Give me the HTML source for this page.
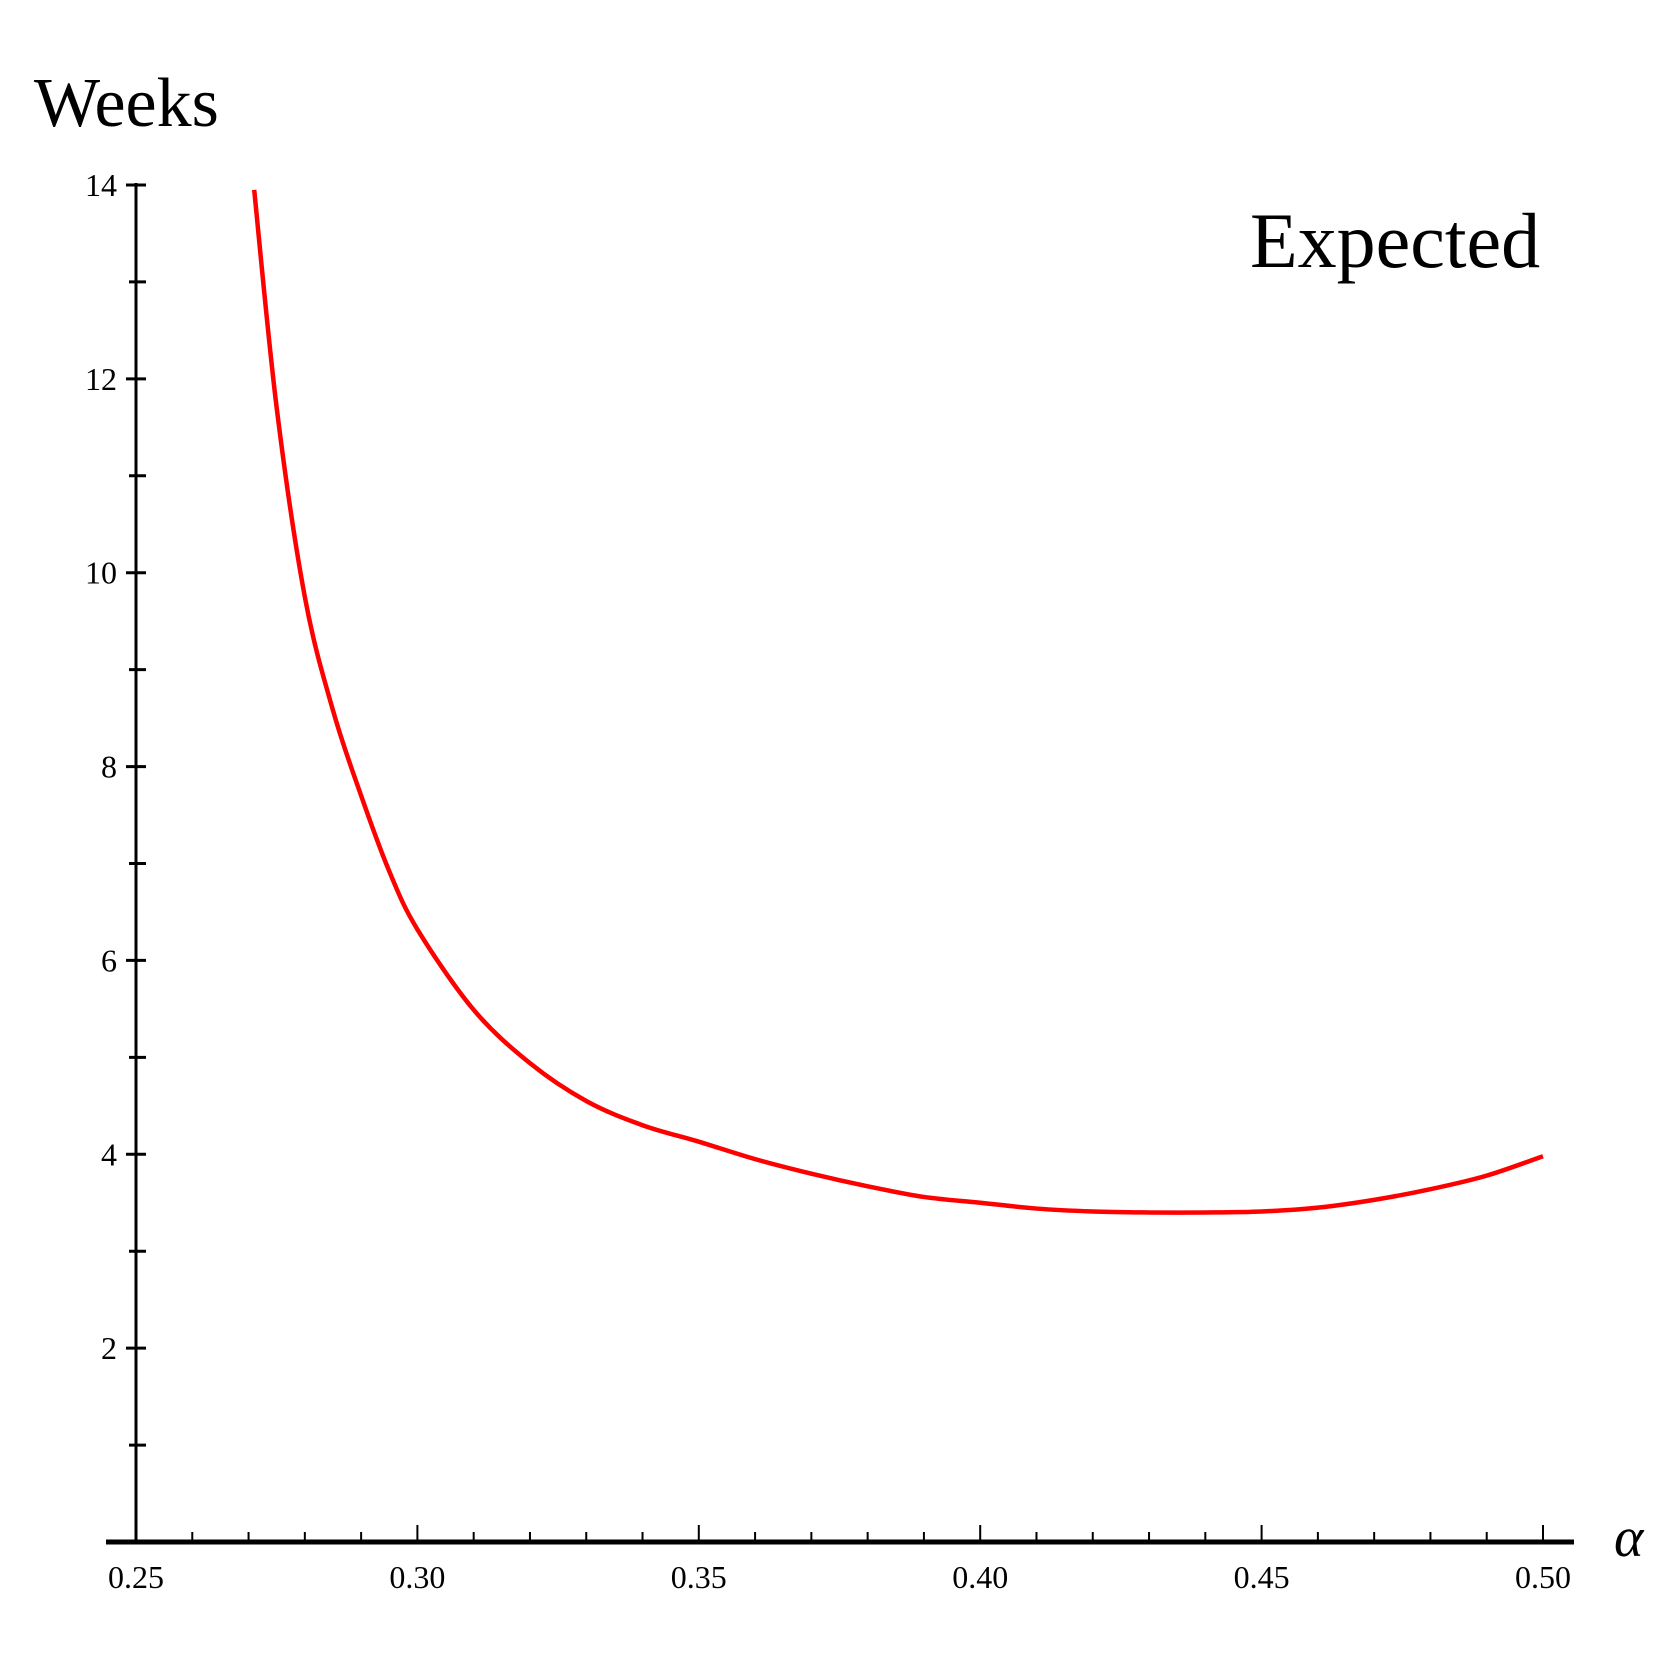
<!DOCTYPE html>
<html><head><meta charset="utf-8"><style>
html,body{margin:0;padding:0;background:#fff;}
svg text{font-family:"Liberation Serif",serif;fill:#000;}
</style></head><body>
<svg id="chart" width="1667" height="1667" viewBox="0 0 1667 1667" xmlns="http://www.w3.org/2000/svg">
<text x="34" y="126" font-size="70">Weeks</text>
<text x="1250" y="267" font-size="78">Expected</text>
<text x="1614" y="1556" font-size="56" font-style="italic">α</text>
<g id="axes"></g>
<path id="curve" fill="none" stroke="#ff0000" stroke-width="4.5" stroke-linejoin="round"/>
</svg>
<script>
const alphaValues=[0.271,0.275,0.28,0.285,0.29,0.295,0.30,0.31,0.32,0.33,0.34,0.35,0.36,0.37,0.38,0.39,0.40,0.41,0.42,0.43,0.44,0.45,0.46,0.47,0.48,0.49,0.50];
const weeksValues=[13.95,11.7,9.75,8.58,7.7,6.92,6.32,5.49,4.94,4.55,4.3,4.13,3.95,3.80,3.67,3.56,3.50,3.44,3.41,3.40,3.40,3.41,3.45,3.53,3.64,3.78,3.98];
const xTickLabels=["0.25","0.30","0.35","0.40","0.45","0.50"];
const yTickLabels=["2","4","6","8","10","12","14"];

const X0=136,X1=1543,Y0=1542,Y14=185;
const sx=a=>X0+(a-0.25)/0.25*(X1-X0);
const sy=v=>Y0-v/14*(Y0-Y14);
const NS="http://www.w3.org/2000/svg";
const g=document.getElementById('axes');
function mk(tag,attrs,name){const e=document.createElementNS(NS,tag);for(const k in attrs)e.setAttribute(k,attrs[k]);


g.appendChild(e);return e;}
mk('line',{x1:106,y1:Y0,x2:1574,y2:Y0,stroke:'#000','stroke-width':5},'x-axis-line');
mk('line',{x1:X0,y1:Y14-2,x2:X0,y2:Y0,stroke:'#000','stroke-width':3},'y-axis-line');
for(let i=1;i<=25;i++){const a=0.25+i*0.01;const major=i%5===0;
mk('line',{x1:sx(a),y1:Y0,x2:sx(a),y2:Y0-(major?17:10),stroke:'#000','stroke-width':2},major?'x-major-tick':'x-minor-tick');}
xTickLabels.forEach(t=>{const e=mk('text',{x:sx(parseFloat(t)),y:1588,'font-size':32,'text-anchor':'middle'},'x-tick-label');e.textContent=t;});
for(let v=1;v<=14;v++){const major=v%2===0;
mk('line',{x1:major?X0-10:X0-7,y1:sy(v),x2:X0+10,y2:sy(v),stroke:'#000','stroke-width':3},major?'y-major-tick':'y-minor-tick');}
yTickLabels.forEach(t=>{const e=mk('text',{x:117,y:sy(parseFloat(t))+11,'font-size':32,'text-anchor':'end'},'y-tick-label');e.textContent=t;});
const pts=alphaValues.map((a,i)=>[sx(a),sy(weeksValues[i])]);
let d='M'+pts[0][0]+','+pts[0][1];
for(let i=0;i<pts.length-1;i++){const p0=pts[Math.max(0,i-1)],p1=pts[i],p2=pts[i+1],p3=pts[Math.min(pts.length-1,i+2)];
const c1=[p1[0]+(p2[0]-p0[0])/6,p1[1]+(p2[1]-p0[1])/6],c2=[p2[0]-(p3[0]-p1[0])/6,p2[1]-(p3[1]-p1[1])/6];
d+=' C'+c1.join(',')+' '+c2.join(',')+' '+p2.join(',');}
document.getElementById('curve').setAttribute('d',d);
</script>
</body></html>
